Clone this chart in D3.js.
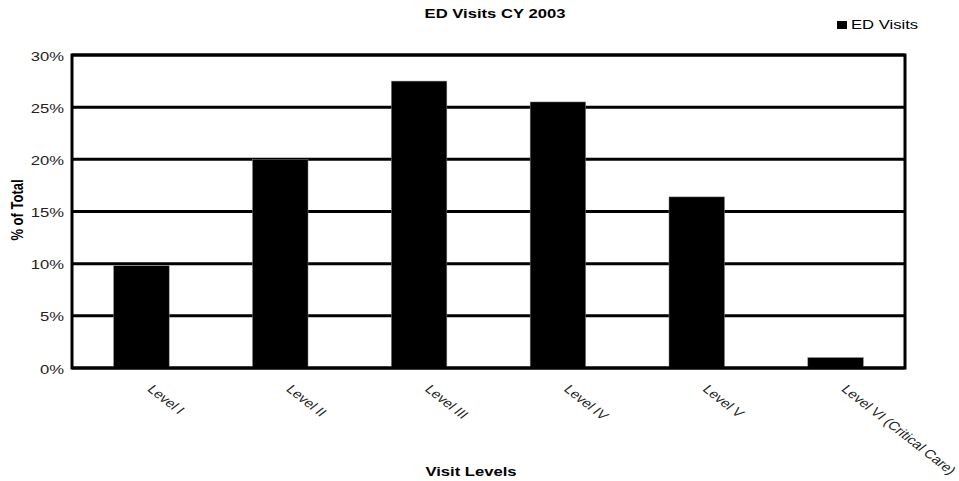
<!DOCTYPE html>
<html><head><meta charset="utf-8">
<script src="https://cdn.jsdelivr.net/npm/d3@7"></script>
<style>body{margin:0;background:#fff}svg{display:block;font-family:"Liberation Sans",Arial,sans-serif}</style>
</head><body><svg id="c" width="959" height="481"></svg>
<script>
const categories = ["Level I","Level II","Level III","Level IV","Level V","Level VI (Critical Care)"];
const edVisits = [9.8, 20.0, 27.5, 25.5, 16.4, 1.0];
const yTicks = [0,5,10,15,20,25,30];
const title = "ED Visits CY 2003";
const seriesName = "ED Visits";
const xTitle = "Visit Levels";
const yTitle = "% of Total";

const SX = 1.28; // horizontal stretch of the reference text
const svg = d3.select("#c");
const m = {l:72, r:905, t:55, b:368};
const x = d3.scaleBand().domain(categories).range([m.l, m.r]).paddingInner(0.6).paddingOuter(0.3);
const y = d3.scaleLinear().domain([0,30]).range([m.b, m.t]);

svg.append("g").selectAll("line").data(yTicks).join("line")
  .attr("x1", m.l).attr("x2", m.r).attr("y1", d=>y(d)).attr("y2", d=>y(d))
  .attr("stroke","#000").attr("stroke-width",3);

svg.append("g").selectAll("rect").data(edVisits).join("rect")
  .attr("x",(d,i)=>x(categories[i])).attr("width",x.bandwidth())
  .attr("y",d=>y(d)).attr("height",d=>y(0)-y(d))
  .attr("fill","#000").attr("stroke","#888").attr("stroke-width",0.5);

svg.append("rect").attr("x",m.l).attr("y",m.t).attr("width",m.r-m.l).attr("height",m.b-m.t)
  .attr("fill","none").attr("stroke","#000").attr("stroke-width",3);

const ya = svg.append("g").attr("transform",`translate(${m.l},0)`)
  .call(d3.axisLeft(y).tickValues(yTicks).tickFormat(d=>d+"%").tickSize(0).tickPadding(0));
ya.select(".domain").remove();
ya.selectAll("text").attr("font-size",13).attr("fill","#222")
  .attr("font-family","Liberation Sans, Arial, sans-serif")
  .attr("x",0).attr("transform",`translate(-8,1) scale(${SX},1)`);

const xa = svg.append("g").attr("transform",`translate(0,${m.b})`)
  .call(d3.axisBottom(x).tickSize(0).tickFormat(d=>d));
xa.select(".domain").remove();
xa.selectAll("text")
  .attr("font-size",12).attr("fill","#222").attr("font-family","Liberation Sans, Arial, sans-serif")
  .attr("text-anchor","start").attr("dy",null).attr("y",null)
  .attr("transform",`translate(5,22) scale(${SX},1) rotate(45)`);

svg.append("text").attr("transform",`translate(495,18) scale(${SX},1)`).attr("text-anchor","middle")
  .attr("font-size",13).attr("font-weight","bold").text(title);
svg.append("text").attr("transform",`translate(471,476) scale(${SX},1)`).attr("text-anchor","middle")
  .attr("font-size",13).attr("font-weight","bold").text(xTitle);
svg.append("text").attr("transform",`translate(23,210) scale(${SX},1) rotate(-90)`).attr("text-anchor","middle")
  .attr("font-size",13).attr("font-weight","bold").text(yTitle);

const lg = svg.append("g").attr("transform","translate(837,20)");
lg.append("rect").attr("x",0).attr("y",1).attr("width",10).attr("height",8).attr("fill","#000");
lg.append("text").attr("transform",`translate(14,9) scale(${SX},1)`).attr("font-size",13).text(seriesName);
</script></body></html>
